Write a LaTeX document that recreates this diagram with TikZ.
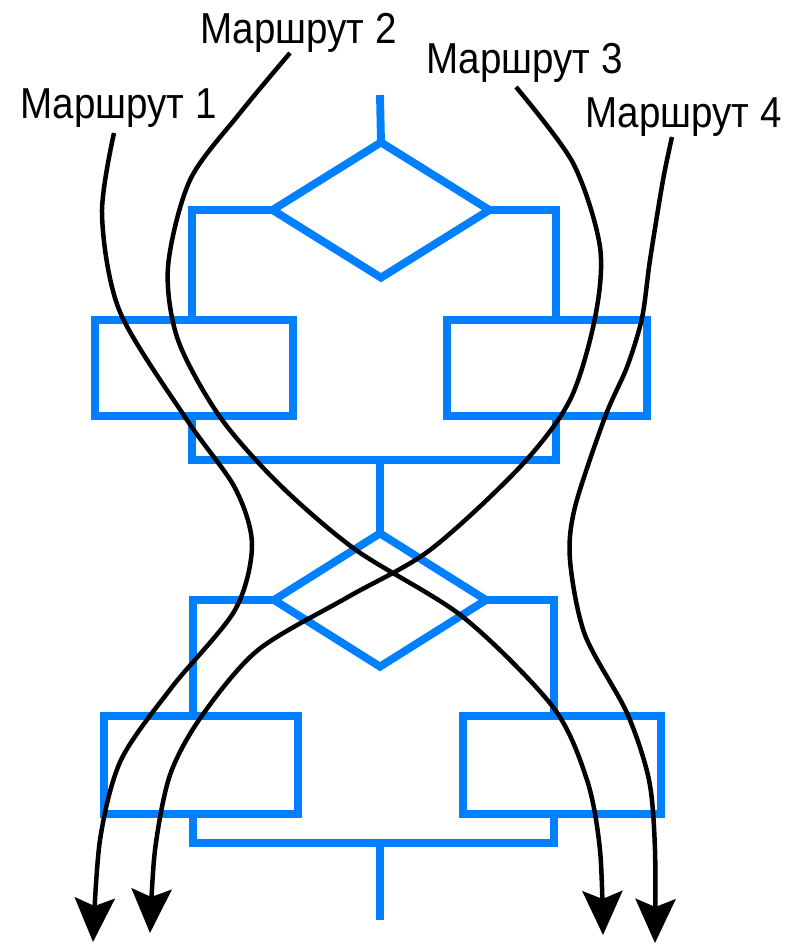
\documentclass[tikz,border=0pt]{standalone}
\usepackage{fontspec}
\setmainfont[FakeStretch=0.89]{Liberation Sans}
\usetikzlibrary{shapes.geometric, arrows.meta}
\definecolor{flowblue}{RGB}{0,128,255}

\begin{document}
\begin{tikzpicture}[
    x = 0.025cm, y = -0.025cm,
    block/.style = {draw=flowblue, line width=5.6pt, inner sep=0pt, outer sep=0pt},
    cond/.style = {diamond, draw=flowblue, line width=5.6pt, inner sep=0pt, outer sep=0pt},
    flow/.style = {draw=flowblue, line width=5.6pt},
    route/.style = {draw=black, line width=3.2pt, -{Stealth[length=1.1cm, width=1.0cm, inset=0.2cm]}},
    routename/.style = {font=\fontsize{30.8}{36}\selectfont, inner sep=0pt, anchor=base west}
]
\useasboundingbox (0,0) rectangle (803,946);

% decisions and blocks
\node[cond, minimum width=5.42cm, minimum height=3.38cm] (d1) at (381,210) {};
\node[block, minimum width=4.97cm, minimum height=2.41cm] (bl1) at (194,368) {};
\node[block, minimum width=5.01cm, minimum height=2.41cm] (br1) at (547,368) {};
\node[cond, minimum width=5.3cm, minimum height=3.33cm] (d2) at (380,600) {};
\node[block, minimum width=4.87cm, minimum height=2.47cm] (bl2) at (201,765) {};
\node[block, minimum width=4.95cm, minimum height=2.47cm] (br2) at (562,765) {};

\coordinate (in) at (380,95);
\coordinate (j1) at (380,460);
\coordinate (j2) at (380,843);
\coordinate (out) at (380,920);

\draw[flow] (in) -- (d1.north);
\draw[flow] (d1.west) -| ([xshift=-0.05cm]bl1.north);
\draw[flow] (d1.east) -| ([xshift=0.225cm]br1.north);
\draw[flow] ([xshift=-0.05cm]bl1.south) |- (j1) -| ([xshift=0.225cm]br1.south);
\draw[flow] (j1) -- (d2.north);
\draw[flow] (d2.west) -| ([xshift=-0.2cm]bl2.north);
\draw[flow] (d2.east) -| ([xshift=-0.2cm]br2.north);
\draw[flow] ([xshift=-0.2cm]bl2.south) |- (j2) -| ([xshift=-0.2cm]br2.south);
\draw[flow] (j2) -- (out);

% route labels
\node[routename] (m1) at (20,118) {Маршрут 1};
\node[routename] (m2) at (200,44) {Маршрут 2};
\node[routename] (m3) at (426,73) {Маршрут 3};
\node[routename] (m4) at (585,128) {Маршрут 4};

\coordinate (s1) at (114,133);
\coordinate (s2) at (290,53);
\coordinate (s3) at (516,87);
\coordinate (s4) at (672,137);
\coordinate (e1) at (93,942);
\coordinate (e2) at (603,935);
\coordinate (e3) at (150,933);
\coordinate (e4) at (655,943);

% routes
\draw[route] plot[smooth] coordinates {(s1) (102,215) (120,312) (187,420) (235,488) (252,545) (235,610) (172,687) (121,760) (100,840) (e1)};
\draw[route] plot[smooth] coordinates {(s2) (240,113) (190,180) (168,267) (178,340) (220,417) (280,485) (356,550) (463,617) (553,707) (587,780) (600,850) (e2)};
\draw[route] plot[smooth] coordinates {(s3) (573,163) (600,247) (595,318) (570,400) (520,467) (430,550) (348,597) (258,650) (201,717) (170,775) (155,850) (e3)};
\draw[route] plot[smooth] coordinates {(s4) (663,180) (650,260) (642,318) (627,367) (605,417) (575,507) (570,560) (585,635) (627,713) (649,780) (655,850) (e4)};

\end{tikzpicture}
\end{document}
